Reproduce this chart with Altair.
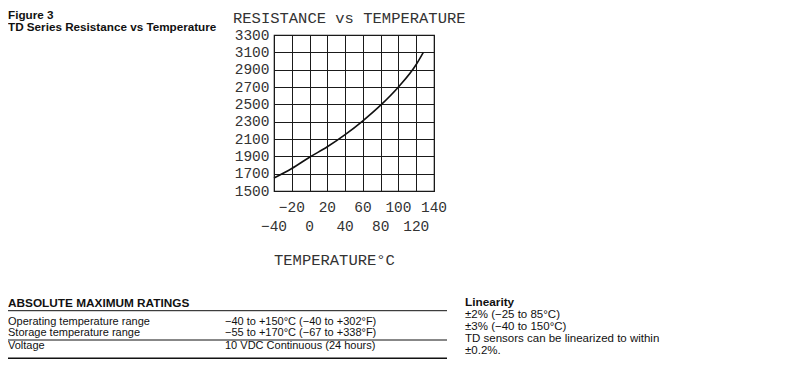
import altair as alt
import pandas as pd

# ---- data ----
temps = [-40, -20, 0, 20, 40, 60, 80, 100, 120, 128]
resistance = [1650, 1760, 1890, 2010, 2150, 2310, 2490, 2700, 2960, 3100]
x_grid = [-40, -20, 0, 20, 40, 60, 80, 100, 120, 140]
x_labels_upper = [-20, 20, 60, 100, 140]
x_labels_lower = [-40, 0, 40, 80, 120]
y_ticks = [1500, 1700, 1900, 2100, 2300, 2500, 2700, 2900, 3100, 3300]

fig_label = "Figure 3"
fig_title = "TD Series Resistance vs Temperature"
plot_title = "RESISTANCE vs TEMPERATURE"
x_title = "TEMPERATURE°C"
ratings_head = "ABSOLUTE MAXIMUM RATINGS"
ratings_names = ["Operating temperature range", "Storage temperature range", "Voltage"]
ratings_values = ["−40 to +150°C (−40 to +302°F)", "−55 to +170°C (−67 to +338°F)",
                  "10 VDC Continuous (24 hours)"]
lin_head = "Linearity"
lin_lines = ["±2% (−25 to 85°C)", "±3% (−40 to 150°C)",
             "TD sensors can be linearized to within", "±0.2%."]

curve = pd.DataFrame({"T": temps, "R": resistance})

PLOT_FONT = "Liberation Mono"
SANS = "Liberation Sans"
INK = "#1a1a1a"
PLOT_TEXT = "#333"

xs = alt.Scale(domain=[-40, 140], nice=False, zero=False)
ys = alt.Scale(domain=[1500, 3300], nice=False, zero=False)
x_axis = alt.Axis(values=x_grid, labels=False, ticks=False, domain=False,
                  grid=True, title=None)

one = alt.InlineData(values=[{"a": 1}])


def label(text, x, y, size=11, weight="normal", font=SANS, color="#111"):
    return alt.Chart(one).mark_text(
        text=text, align="left", baseline="alphabetic", font=font,
        fontSize=size, fontWeight=weight, color=color
    ).encode(x=alt.value(x), y=alt.value(y))


def hline(x1, x2, y, w=1.0):
    return alt.Chart(one).mark_rule(color="#111", strokeWidth=w).encode(
        x=alt.value(x1), x2=alt.value(x2), y=alt.value(y))


line = alt.Chart(curve).mark_line(color="#111", strokeWidth=1.6, interpolate="monotone").encode(
    x=alt.X("T:Q", scale=xs, axis=x_axis),
    y=alt.Y("R:Q", scale=ys, axis=alt.Axis(values=y_ticks, ticks=False, domain=False,
                                          grid=True, title=None, format="d",
                                          labelPadding=5, labelFont=PLOT_FONT,
                                          labelFontSize=14.5, labelColor=PLOT_TEXT)),
)

upper = alt.Chart(pd.DataFrame({"v": x_labels_upper})).mark_text(
    baseline="alphabetic", font=PLOT_FONT, fontSize=14.5, color=PLOT_TEXT
).encode(x=alt.X("v:Q", scale=xs, axis=x_axis), y=alt.value(176.7),
         text=alt.Text("v:Q", format="d"))
lower = alt.Chart(pd.DataFrame({"v": x_labels_lower})).mark_text(
    baseline="alphabetic", font=PLOT_FONT, fontSize=14.5, color=PLOT_TEXT
).encode(x=alt.X("v:Q", scale=xs, axis=x_axis), y=alt.value(196),
         text=alt.Text("v:Q", format="d"))

layers = [line, upper, lower,
          label(plot_title, -41, -11.7, size=15.5, font=PLOT_FONT, color=PLOT_TEXT),
          label(x_title, 0, 230, size=15.5, font=PLOT_FONT, color=PLOT_TEXT),
          label(fig_label, -266, -16.5, size=11.7, weight="bold"),
          label(fig_title, -266, -4.5, size=11.7, weight="bold"),
          label(ratings_head, -266, 271.7, size=11.8, weight="bold"),
          hline(-266, 173, 275.7),
          label(ratings_names[0], -266, 290, size=11),
          label(ratings_values[0], -49, 290, size=11),
          label(ratings_names[1], -266, 300.7, size=11),
          label(ratings_values[1], -49, 300.7, size=11),
          hline(-266, 173, 305),
          label(ratings_names[2], -266, 314.3, size=11),
          label(ratings_values[2], -49, 314.3, size=11),
          hline(-266, 173, 323.3, w=1.6),
          label(lin_head, 191, 270.7, size=11.8, weight="bold"),
          label(lin_lines[0], 191, 283.3, size=11.5),
          label(lin_lines[1], 191, 295, size=11.5),
          label(lin_lines[2], 191, 306.5, size=11.5),
          label(lin_lines[3], 191, 318.5, size=11.5),
          ]

chart = alt.layer(*layers).properties(
    width=160, height=156,
    autosize=alt.AutoSizeParams(type="none"),
    padding={"left": 266, "top": 27, "right": 352, "bottom": 169},
    background="white",
).configure_view(stroke="#111", strokeWidth=1.2).configure_axis(
    gridColor=INK, gridOpacity=1, gridWidth=1
)

chart.save("out.html", embed_options={"renderer": "svg", "actions": False})
